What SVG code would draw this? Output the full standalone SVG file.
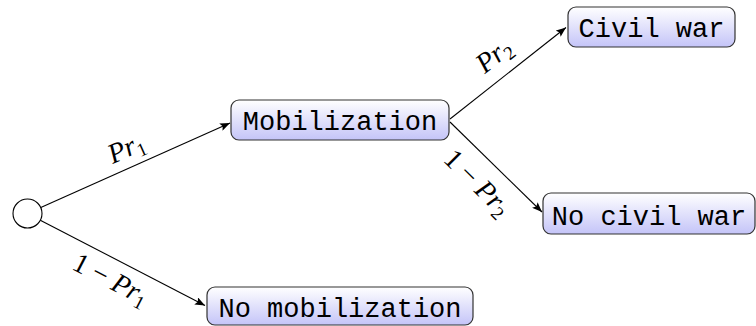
<svg xmlns="http://www.w3.org/2000/svg" width="756" height="326" viewBox="0 0 756 326">
<defs>
<linearGradient id="g" x1="0" y1="0" x2="0" y2="1">
<stop offset="0" stop-color="#ffffff"/>
<stop offset="1" stop-color="#c4c4f8"/>
</linearGradient>
<marker id="arr" viewBox="0 0 10 8" refX="10" refY="4" markerWidth="10" markerHeight="8" markerUnits="userSpaceOnUse" orient="auto">
<path d="M0,0 L10,4 L0,8 L2,4 Z" fill="#000"/>
</marker>
<style>
.box{fill:url(#g);stroke:#333;stroke-width:1.2}
.lbl{font-family:"Liberation Mono",monospace;font-size:27px;fill:#000;text-anchor:middle}
.edge{stroke:#000;stroke-width:1.1;fill:none;marker-end:url(#arr)}
.m{font-family:"Liberation Serif",serif;font-size:28px;fill:#000;text-anchor:middle}
.i{font-style:italic}
.s{font-size:19px}
</style>
</defs>
<g id="root"><circle cx="27.5" cy="213.5" r="14.5" fill="#fff" stroke="#000" stroke-width="1.1"/></g>
<g id="mobilization"><rect class="box" x="231" y="100" width="218" height="40" rx="8"/><text class="lbl" x="340" y="130">Mobilization</text></g>
<g id="no-mobilization"><rect class="box" x="207" y="287" width="266" height="38" rx="8"/><text class="lbl" x="340" y="317">No mobilization</text></g>
<g id="civil-war"><rect class="box" x="568" y="7" width="167" height="40" rx="8"/><text class="lbl" x="651.5" y="37">Civil war</text></g>
<g id="no-civil-war"><rect class="box" x="543" y="193" width="212" height="41" rx="8"/><text class="lbl" x="649" y="225">No civil war</text></g>
<g id="connectors">
<path class="edge" d="M40.8,207.6 L230,123"/>
<path class="edge" d="M40.3,220.2 L205,305.5"/>
<path class="edge" d="M450,119 L566,27.5"/>
<path class="edge" d="M450,122 L542,212"/>
<text class="m" transform="translate(127,150) rotate(-24)" y="7"><tspan class="i">Pr</tspan><tspan class="s" dy="5">1</tspan></text>
<text class="m" transform="translate(110,281) rotate(27.5)" y="7">1 − <tspan class="i">Pr</tspan><tspan class="s" dy="5">1</tspan></text>
<text class="m" transform="translate(495,57) rotate(-38.4)" y="7"><tspan class="i">Pr</tspan><tspan class="s" dy="5">2</tspan></text>
<text class="m" transform="translate(476,184) rotate(44.7)" y="7">1 − <tspan class="i">Pr</tspan><tspan class="s" dy="5">2</tspan></text>
</g>
</svg>
